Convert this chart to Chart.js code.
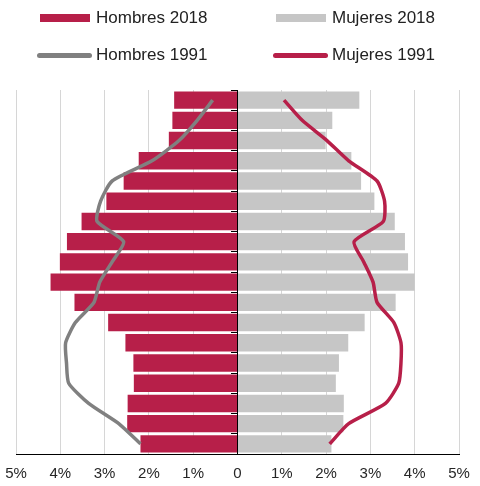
<!DOCTYPE html>
<html>
<head>
<meta charset="utf-8">
<script src="https://cdn.jsdelivr.net/npm/chart.js@4"></script>
<style>
  html, body { margin: 0; padding: 0; background: #fff; }
  #wrap { position: relative; width: 480px; height: 486px; }
  #legend { position: absolute; left: 0; top: 0; width: 480px; height: 72px;
    font-family: "Liberation Sans", Arial, sans-serif; font-size: 17px; color: #222; }
  .item { position: absolute; display: flex; align-items: center; height: 20px; }
  .sw { width: 56px; height: 20px; position: relative; margin-right: 3px; }
  .sw span { position: absolute; top: 50%; }
</style>
</head>
<body>
<div id="wrap">
  <div id="legend"></div>
  <canvas id="chart" width="480" height="486"></canvas>
</div>
<script>
// === Pirámide de población 2018 vs 1991 ===

const edades = ['85+', '80-84', '75-79', '70-74', '65-69', '60-64', '55-59', '50-54', '45-49',
  '40-44', '35-39', '30-34', '25-29', '20-24', '15-19', '10-14', '5-9', '0-4'];

// porcentajes (hombres en negativo para el lado izquierdo)
const hombres2018 = [-1.43, -1.47, -1.55, -2.23, -2.57, -2.96, -3.52, -3.85, -4.01,
  -4.22, -3.68, -2.92, -2.53, -2.35, -2.34, -2.48, -2.49, -2.19];
const mujeres2018 = [2.75, 2.14, 1.99, 2.57, 2.79, 3.09, 3.55, 3.78, 3.85,
  4.00, 3.57, 2.87, 2.50, 2.29, 2.22, 2.40, 2.39, 2.12];
const hombres1991 = [-0.56, -0.91, -1.32, -1.93, -2.83, -3.09, -3.17, -2.57, -2.83,
  -3.11, -3.24, -3.66, -3.88, -3.86, -3.81, -3.36, -2.68, -2.19];
const mujeres1991 = [1.05, 1.46, 2.02, 2.51, 3.15, 3.32, 3.29, 2.63, 2.85,
  3.06, 3.15, 3.53, 3.69, 3.69, 3.64, 3.34, 2.51, 2.08];

const ejeX = [-5, -4, -3, -2, -1, 0, 1, 2, 3, 4, 5];

const ROJO = '#b71f49';
const GRIS = '#c6c6c6';
const GRIS_OSCURO = '#808080';

// leyenda en HTML, 2 columnas como el original
const htmlLegend = {
  id: 'htmlLegend',
  afterUpdate(chart) {
    const box = document.getElementById('legend');
    box.innerHTML = '';
    const pos = [[37, 8], [273, 8], [37, 45], [273, 45]];
    chart.data.datasets.forEach((ds, i) => {
      const item = document.createElement('div');
      item.className = 'item';
      item.style.left = pos[i][0] + 'px';
      item.style.top = pos[i][1] + 'px';
      const sw = document.createElement('div');
      sw.className = 'sw';
      const mark = document.createElement('span');
      if (ds.type === 'line') {
        mark.style.left = '0px';
        mark.style.width = '55px';
        mark.style.height = '5px';
        mark.style.marginTop = '-2px';
        mark.style.borderRadius = '3px';
        mark.style.background = ds.borderColor;
      } else {
        mark.style.left = '3px';
        mark.style.width = '50px';
        mark.style.height = '8px';
        mark.style.marginTop = '-4px';
        mark.style.background = ds.backgroundColor;
      }
      sw.appendChild(mark);
      const txt = document.createElement('span');
      txt.textContent = ds.label;
      item.appendChild(sw);
      item.appendChild(txt);
      box.appendChild(item);
    });
  },
};

new Chart(document.getElementById('chart'), {
  type: 'bar',
  data: {
    labels: edades,
    datasets: [
      { label: 'Hombres 2018', data: hombres2018, backgroundColor: ROJO,
        grouped: false, order: 2, barPercentage: 0.86, categoryPercentage: 1 },
      { label: 'Mujeres 2018', data: mujeres2018, backgroundColor: GRIS,
        grouped: false, order: 2, barPercentage: 0.86, categoryPercentage: 1 },
      { type: 'line', indexAxis: 'y', label: 'Hombres 1991', data: hombres1991,
        borderColor: GRIS_OSCURO, borderWidth: 3.5, pointRadius: 0, tension: 0.2, order: 1 },
      { type: 'line', indexAxis: 'y', label: 'Mujeres 1991', data: mujeres1991,
        borderColor: ROJO, borderWidth: 3.5, pointRadius: 0, tension: 0.2, order: 0 },
    ],
  },
  options: {
    indexAxis: 'y',
    responsive: false,
    animation: false,
    layout: { padding: { top: 90, left: 16, right: 21, bottom: 0 } },
    scales: {
      x: {
        min: -5,
        max: 5,
        afterBuildTicks(scale) { scale.ticks = ejeX.map(v => ({ value: v })); },
        afterFit(scale) { scale.height = 32; },
        grid: { color: '#d6d6d6', borderDash: [2, 1], tickLength: 8, tickColor: 'rgba(0,0,0,0)' },
        border: { color: '#000', width: 1 },
        ticks: {
          padding: 3,
          color: '#262626',
          font: { family: 'Liberation Sans', size: 15 },
          callback: v => v === 0 ? '0' : Math.abs(v) + '%',
        },
      },
      y: {
        position: { x: 0 },
        grid: { offset: true, drawOnChartArea: false, tickLength: 6, color: '#000' },
        border: { color: '#000', width: 1 },
        ticks: { display: false },
      },
    },
    plugins: {
      legend: { display: false },
      tooltip: { enabled: false },
    },
  },
  plugins: [htmlLegend],
});
</script>
</body>
</html>
